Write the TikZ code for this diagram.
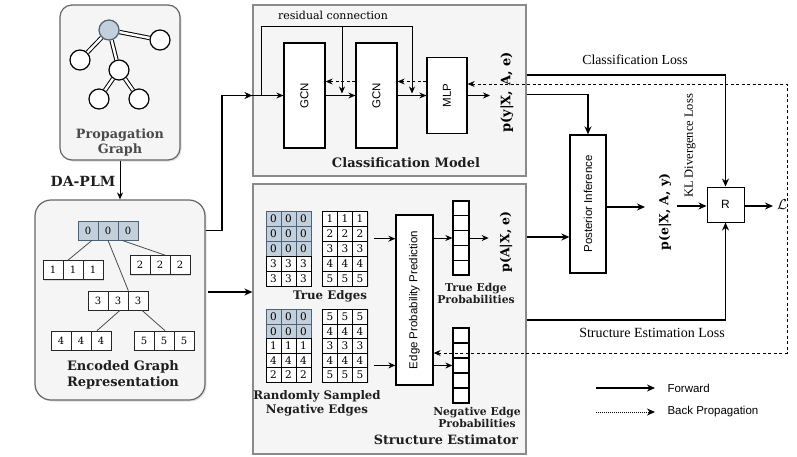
\documentclass[tikz,border=0pt]{standalone}
\usepackage{fontspec}
\setmainfont{DejaVu Serif}
\setsansfont{Liberation Sans}
\newfontfamily\tnr{Liberation Serif}
\usetikzlibrary{arrows.meta,shadows,calc}
\definecolor{boxfill}{HTML}{F5F5F5}
\definecolor{boxline}{HTML}{666666}
\definecolor{panelline}{HTML}{8A8A8A}
\definecolor{bluec}{HTML}{C3CFDA}
\definecolor{blued}{HTML}{4A6378}
\definecolor{labgray}{HTML}{4A4A4A}
\definecolor{labdark}{HTML}{1E1E1E}
\newcommand\mytriple[5]{%
  \foreach \k [count=\c] in {a,b,c} {\node[ecell,#5] (#1\k) at ({#2+10+20*(\c-1)},#3) {#4};}}
\newcommand\mymat[5]{%
  \foreach \d/\f/\g [count=\i] in {#5} {%
    \foreach \j in {1,2,3} {%
      \node[mcell, fill=\f, draw=\g, minimum height=#4pt] (#1-\i-\j) at ({#2+7.5+15*(\j-1)},{#3+#4/2+#4*(\i-1)}) {\d};
    }%
  }}
\tikzset{
  rbox/.style={draw=boxline, line width=1.2pt, fill=boxfill, rounded corners=12pt,
    drop shadow={opacity=0.25,shadow xshift=1.5pt,shadow yshift=-1.5pt}},
  panel/.style={draw=panelline, line width=1.2pt, fill=boxfill},
  blk/.style={draw=black, line width=1.3pt, fill=white, inner sep=0pt},
  gnode/.style={circle, draw=black, line width=1.2pt, fill=white, minimum size=20pt, inner sep=0pt},
  groot/.style={gnode, fill=bluec, draw=blued},
  gedge/.style={draw=black, line width=1pt, double=white, double distance=2.4pt},
  tedge/.style={draw=black!70, line width=0.8pt},
  ecell/.style={draw=black!85, line width=0.7pt, fill=white, minimum width=20pt, minimum height=19pt,
    inner sep=0pt, font=\fontsize{10}{10}\selectfont,
    drop shadow={opacity=0.25,shadow xshift=1.2pt,shadow yshift=-1.2pt}},
  bcell/.style={fill=bluec, draw=blued},
  mcell/.style={line width=0.6pt, minimum width=15pt, inner sep=0pt, font=\fontsize{10.5}{10.5}\selectfont,
    drop shadow={opacity=0.2,shadow xshift=1pt,shadow yshift=-1pt}},
  pcell/.style={draw=black, line width=1.3pt, fill=white, minimum width=16pt, minimum height=14.8pt, inner sep=0pt},
  fw/.style={line width=1.4pt, -{Stealth[length=8pt,width=7pt]}},
  fwthin/.style={line width=0.9pt, -{Stealth[length=7pt,width=6pt]}},
  res/.style={line width=0.8pt, -{Stealth[length=7pt,width=6pt]}},
  bp/.style={line width=0.9pt, dash pattern=on 3pt off 2.5pt},
  bpthin/.style={line width=0.9pt, dash pattern=on 3pt off 2.5pt, -{Stealth[length=7pt,width=6pt]}},
  sanslab/.style={font=\sffamily\fontsize{11.5}{11.5}\selectfont},
  ptitle/.style={font=\bfseries\fontsize{13}{16}\selectfont, text=labdark, align=center},
}
\begin{document}
\begin{tikzpicture}[x=1pt,y=-1pt]
\useasboundingbox (0,0) rectangle (797,456);

% ---------- Propagation graph ----------
\node[rbox, minimum width=120pt, minimum height=155pt] (pg) at (120,82.5) {};
\node[gnode] (g1) at (160,40) {};
\node[gnode] (g2) at (80,60) {};
\node[gnode] (g3) at (119,70) {};
\node[gnode] (g4) at (99,99) {};
\node[gnode] (g5) at (139,99) {};
\node[groot] (g0) at (109,30) {};
\draw[gedge] (g0) -- (g1);
\draw[gedge] (g0) -- (g2);
\draw[gedge] (g0) -- (g3);
\draw[gedge] (g3) -- (g4);
\draw[gedge] (g3) -- (g5);
\node[ptitle, font=\bfseries\fontsize{12.8}{15}\selectfont, text=labgray] (pgt) at (120,142) {Propagation\\Graph};

% ---------- Encoded graph ----------
\node[rbox, rounded corners=16pt, minimum width=170pt, minimum height=200pt] (eg) at (120,300) {};
\draw[fwthin] (pg.south) -- (eg.north);
\node[font=\bfseries\fontsize{14}{14}\selectfont, text=labdark] (dap) at (83,181) {DA-PLM};
\mytriple{e0}{78}{230.5}{0}{bcell}
\mytriple{e1}{43}{270}{1}{}
\mytriple{e2}{130}{265}{2}{}
\mytriple{e3}{88}{300.5}{3}{}
\mytriple{e4}{51}{340.5}{4}{}
\mytriple{e5}{134}{340.5}{5}{}
\draw[tedge] ([xshift=4pt]e0a.south) -- ([xshift=-5pt]e1b.north);
\draw[tedge] (e0b.south) -- (e3b.north east);
\draw[tedge] ([xshift=-6pt]e0c.south) -- ([xshift=5pt]e2b.north);
\draw[tedge] ([xshift=2pt]e3b.south) -- ([xshift=-4pt]e4c.north);
\draw[tedge] ([xshift=4pt]e3c.south) -- ([xshift=1pt]e5b.north);
\node[ptitle] (egt) at (123,375) {Encoded Graph\\Representation};

% ---------- Classification model ----------
\node[panel, minimum width=273pt, minimum height=171pt] (cm) at (389.5,90.5) {};
\node[blk, minimum width=41pt, minimum height=105pt,
  label={[rotate=90,sanslab]center:GCN}] (gcn1) at (304.5,95.5) {};
\node[blk, minimum width=41pt, minimum height=105pt,
  label={[rotate=90,sanslab]center:GCN}] (gcn2) at (376.5,95.5) {};
\node[blk, minimum width=40pt, minimum height=76pt,
  label={[rotate=90,sanslab]center:MLP}] (mlp) at (447,95.5) {};
\node[font=\fontsize{11}{11}\selectfont] (resl) at (333,15) {residual connection};
\node[ptitle] (cmt) at (406,163) {Classification Model};

\coordinate (egA) at (eg.east |- e0a);
\coordinate (j1) at (222,0);
\coordinate (cmin) at (cm.west |- gcn1);
\draw[fw] (egA) -| (j1 |- cmin) -- (cmin);
\draw[fwthin] (cmin) -- (gcn1.west);
\coordinate (r0) at ($(cmin)+(9,0)$);
\coordinate (rt) at (262,26);
\coordinate (rj1) at ($(gcn1.east)!0.55!(gcn2.west)$);
\coordinate (rj2) at ($(gcn2.east)!0.5!(mlp.west)$);
\draw[res] (r0) -- (r0 |- rt) -| ([yshift=2pt]rj2);
\draw[res] (rj1 |- rt) -- ([yshift=2pt]rj1);
\draw[fwthin] (gcn1.east) -- (gcn2.west);
\draw[fwthin] (gcn2.east) -- (mlp.west);
\draw[bpthin] ([yshift=14pt]gcn2.west) -- ([yshift=14pt]gcn1.east);
\draw[bpthin] ([yshift=14pt]mlp.west) -- ([yshift=14pt]gcn2.east);
\coordinate (pyin) at (490,95.5);
\draw[fwthin] (mlp.east) -- (pyin);
\node[rotate=90, font=\bfseries\fontsize{13}{13}\selectfont] (pyl) at (507,92.5) {p(y|X, A, e)};

% ---------- Structure estimator ----------
\node[panel, minimum width=273pt, minimum height=270pt] (se) at (389.5,319) {};
\coordinate (egB) at ($(eg.east)+(2,-8)$);
\draw[fw] (egB) -- (se.west |- egB);
\mymat{ma}{266}{211}{15}{0/bluec/blued,0/bluec/blued,0/bluec/blued,3/white/black,3/white/black}
\mymat{mb}{322.5}{211}{15}{1/white/black,2/white/black,3/white/black,4/white/black,5/white/black}
\mymat{mc}{266}{309.3}{14.6}{0/bluec/blued,0/bluec/blued,1/white/black,4/white/black,2/white/black}
\mymat{md}{322.5}{309.3}{14.6}{5/white/black,4/white/black,3/white/black,4/white/black,5/white/black}
\node[font=\bfseries\fontsize{11.8}{11.8}\selectfont, text=labdark] (tet) at (330,296) {True Edges};
\node[font=\bfseries\fontsize{11.8}{14}\selectfont, text=labdark, align=center] (net) at (317,403) {Randomly Sampled\\Negative Edges};
\node[blk, minimum width=37pt, minimum height=170pt,
  label={[rotate=90,font=\sffamily\fontsize{11.5}{11.5}\selectfont]center:Edge Probability Prediction}] (epp) at (414.5,300) {};
\foreach \i in {1,...,5} \node[pcell] (tp\i) at (461,{201+7.4+14.8*(\i-1)}) {};
\foreach \i in {1,...,5} \node[pcell] (np\i) at (461,{328+7.5+15*(\i-1)}) {};
\node[font=\bfseries\fontsize{10.8}{12}\selectfont, text=labdark, align=center] (tpt) at (476,293) {True Edge\\Probabilities};
\node[font=\bfseries\fontsize{10.8}{12}\selectfont, text=labdark, align=center] (npt) at (477,417) {Negative Edge\\Probabilities};
\node[ptitle, font=\bfseries\fontsize{12.8}{12.8}\selectfont] (set) at (446,440) {Structure Estimator};
\coordinate (a1) at ($(mb-3-3.north east)+(6,-2)$);
\coordinate (a2) at ($(md-4-3.east)+(6,5)$);
\draw[fwthin] (a1) -- (epp.west |- a1);
\draw[fwthin] (a2) -- (epp.west |- a2);
\draw[fwthin] (epp.east |- tp3) -- (tp3.west);
\coordinate (tpo) at ($(tp3.east)+(19,0)$);
\draw[fwthin] (tp3.east) -- (tpo);
\draw[fwthin] (epp.east |- np3) -- (np3.west);
\node[rotate=90, font=\bfseries\fontsize{12.5}{12.5}\selectfont] (pal) at (506,242) {p(A|X, e)};

% ---------- right part ----------
\node[blk, minimum width=36pt, minimum height=138pt,
  label={[rotate=90,sanslab]center:Posterior Inference}] (pi) at (588,204) {};
\node[draw=black, line width=1pt, fill=white, minimum width=37pt, minimum height=35pt, inner sep=0pt,
  font=\sffamily\fontsize{12}{12}\selectfont] (R) at (725.5,204.5) {R};
\coordinate (cl1) at ($(cm.east)+(0,-15.5)$);
\coordinate (cl2) at ($(cm.east)+(0,4)$);
\draw[fw] (cl1) -| (R.north);
\draw[fw] (cl2) -| (pi.north);
\coordinate (sl1) at ($(se.east)+(0,-82)$);
\coordinate (sl2) at ($(se.east)+(0,1)$);
\draw[fw] (sl1) -- (pi.west |- sl1);
\draw[fw] (sl2) -| (R.south);
\coordinate (peout) at (645,207);
\draw[fw] (pi.east |- peout) -- (peout);
\node[rotate=90, font=\bfseries\fontsize{12.5}{12.5}\selectfont] (pel) at (665,212) {p(e|X, A, y)};
\node[rotate=90, font=\tnr\fontsize{12.5}{12.5}\selectfont] (kll) at (690,146) {KL Divergence Loss};
\coordinate (kin) at (677,206);
\draw[fw] (kin) -- (R.west |- kin);
\coordinate (lend) at (773,206);
\draw[fw] (R.east |- lend) -- (lend);
\node[anchor=west, inner sep=1pt] (Ll) at (776,205) {\fontsize{15}{15}\selectfont$\mathcal{L}$};
\node[font=\tnr\fontsize{13.8}{13.8}\selectfont] (cll) at (635,60) {Classification Loss};
\node[font=\tnr\fontsize{14}{14}\selectfont] (sll) at (652,333) {Structure Estimation Loss};

% back-propagation loop
\coordinate (bp1) at (787,84);
\coordinate (bp2) at (787,353);
\draw[bp, {Stealth[length=7pt,width=6pt]}-{Stealth[length=7pt,width=6pt]}]
  (mlp.east |- bp1) -- (bp1) -- (bp2) -- (epp.east |- bp2);

% ---------- legend ----------
\coordinate (lg1) at (596,388);
\coordinate (lg1e) at (655,388);
\coordinate (lg2) at (596,412);
\coordinate (lg2e) at (655,412);
\draw[fw] (lg1) -- (lg1e);
\draw[line width=1pt, densely dotted, -{Stealth[length=8pt,width=7pt]}] (lg2) -- (lg2e);
\node[anchor=west, font=\sffamily\fontsize{11.5}{11.5}\selectfont] (lgt1) at (664,388) {Forward};
\node[anchor=west, font=\sffamily\fontsize{11.5}{11.5}\selectfont] (lgt2) at (664,412) {Back Propagation};
\end{tikzpicture}
\end{document}
